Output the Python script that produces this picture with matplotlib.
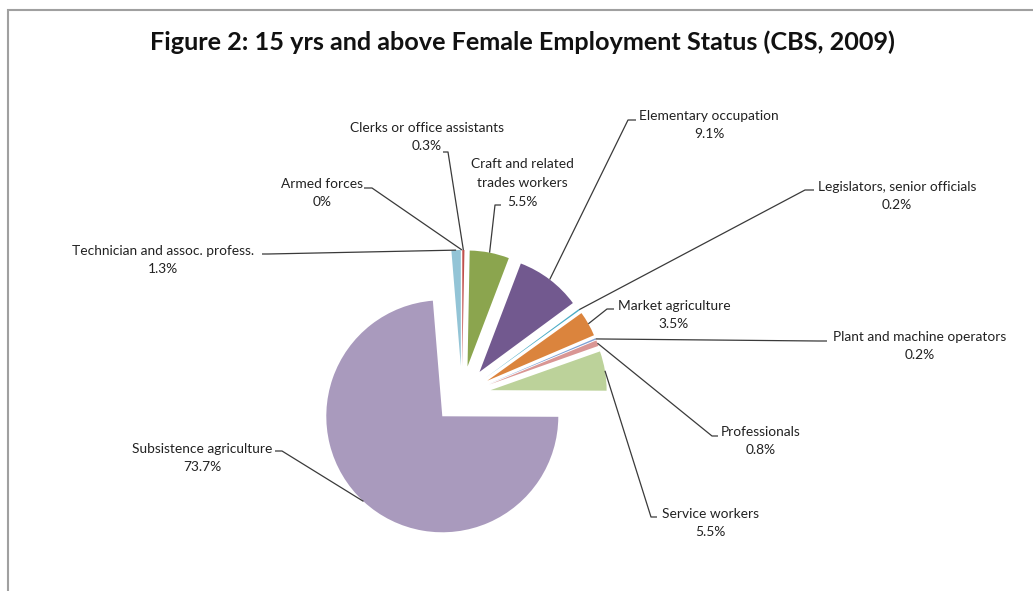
import numpy as np
import matplotlib.pyplot as plt
from matplotlib.patches import Rectangle

plt.rcParams['font.family'] = ['Lato', 'DejaVu Sans']

# data (CBS, 2009)
categories = ["Armed forces", "Clerks or office assistants", "Craft and related\ntrades workers",
              "Elementary occupation", "Legislators, senior officials", "Market agriculture",
              "Plant and machine operators", "Professionals", "Service workers",
              "Subsistence agriculture", "Technician and assoc. profess."]
shares = [0, 0.3, 5.5, 9.1, 0.2, 3.5, 0.2, 0.8, 5.5, 73.7, 1.3]
pct_labels = ["0%", "0.3%", "5.5%", "9.1%", "0.2%", "3.5%", "0.2%", "0.8%", "5.5%", "73.7%", "1.3%"]

colors = ["#4F81BD", "#C0504D", "#8BA54E", "#72598F", "#4BACC6", "#DB843D",
          "#7D9FD3", "#D99694", "#BCD29A", "#A99ABD", "#93C4D6"]

W, H = 1033, 591
fig = plt.figure(figsize=(W / 100, H / 100), dpi=100)
ax = fig.add_axes([0, 0, 1, 1])

# pie in pixel units (y measured from bottom); explode is in the same units
R = 116
wedges, _ = ax.pie(shares, colors=colors, startangle=90, counterclock=False,
                   explode=[0.25 * R] * len(shares), radius=R, center=(462, H - 395),
                   wedgeprops=dict(linewidth=0))

# label layout: text centre, elbow point, end of the short horizontal tick (image px)
layout = [
    ((322, 193), (372, 188), 364),
    ((427, 137), (448, 152), 443),
    ((522, 183), (495, 205), 501),
    ((709, 125), (628, 120), 636),
    ((897, 196), (805, 190), 814),
    ((674, 315), (607, 309), 614),
    ((920, 346), (818, 341), 827),
    ((761, 441), (712, 436), 718),
    ((710, 523), (651, 517), 657),
    ((202, 458), (282, 451), 275),
    ((163, 260), (268, 254), 262),
]

for w, name, pct, (txt, elbow, end) in zip(wedges, categories, pct_labels, layout):
    mid = np.deg2rad((w.theta1 + w.theta2) / 2)
    ax_x = w.center[0] + w.r * np.cos(mid)
    ax_y = w.center[1] + w.r * np.sin(mid)
    ax.plot([ax_x, elbow[0], end], [ax_y, H - elbow[1], H - elbow[1]],
            color="#3a3a3a", lw=0.9, solid_capstyle="butt")
    ax.text(txt[0], H - txt[1], name + "\n" + pct, ha="center", va="center",
            fontsize=9.9, linespacing=1.68, color="#222222")

ax.text(522, H - 42, "Figure 2: 15 yrs and above Female Employment Status (CBS, 2009)",
        ha="center", va="center", fontsize=18.2, fontweight="bold", color="#111111")

# chart area border (only top and left edges are inside the picture)
ax.add_patch(Rectangle((8, -20), W + 20, H - 10 + 20, fill=False, ec="#A0A0A0", lw=1.5))

ax.set_xlim(0, W)
ax.set_ylim(0, H)
ax.set_aspect("equal")
ax.axis("off")

plt.savefig("out.png", dpi=100)
